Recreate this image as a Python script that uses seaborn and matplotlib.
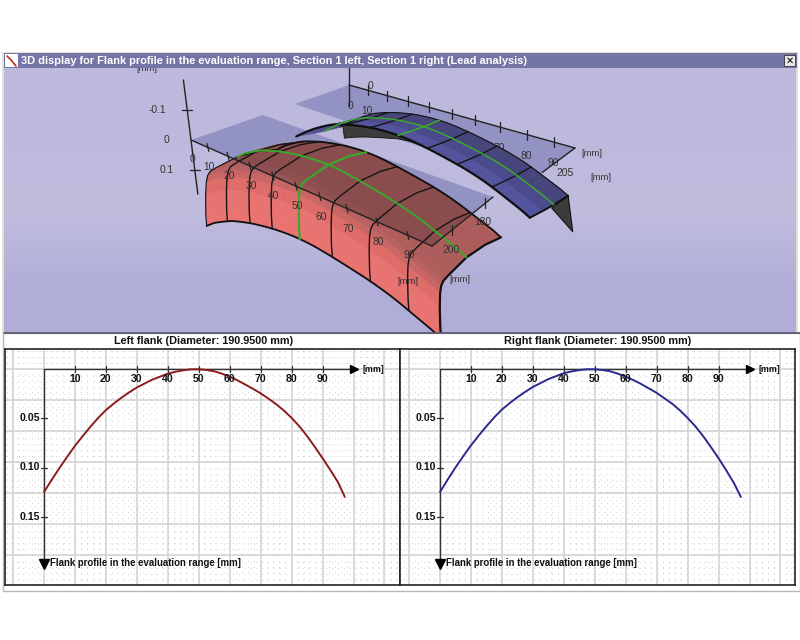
import numpy as np
import pandas as pd
import seaborn as sns
import matplotlib.pyplot as plt
from matplotlib.collections import PolyCollection
from matplotlib.patches import Polygon, Rectangle

# flank profile
lead_mm = [0, 2.5, 5, 7.5, 10, 12.5, 15, 17.5, 20, 22.5, 25, 27.5, 30, 32.5, 35, 37.5, 40, 42.5, 45, 47.5, 50,
           52.5, 55, 57.5, 60, 62.5, 65, 67.5, 70, 72.5, 75, 77.5, 80, 82.5, 85, 87.5, 90, 92.5, 95, 97.2]
left_flank = [0.125, 0.1125, 0.1005, 0.089, 0.078, 0.068, 0.0585, 0.0495, 0.0415, 0.035, 0.029, 0.0235, 0.0185,
              0.0145, 0.0105, 0.0075, 0.0045, 0.0025, 0.001, 0.0, 0.0, 0.0007, 0.002, 0.0045, 0.0075, 0.0112,
              0.0155, 0.0198, 0.0245, 0.0298, 0.0355, 0.042, 0.0495, 0.058, 0.068, 0.079, 0.0905, 0.1025, 0.115, 0.130]
right_flank = [0.125, 0.1122, 0.100, 0.0885, 0.0775, 0.0675, 0.058, 0.049, 0.041, 0.0345, 0.0285, 0.023, 0.018,
               0.014, 0.010, 0.007, 0.004, 0.0022, 0.0008, 0.0, 0.0, 0.0007, 0.002, 0.0045, 0.0075, 0.011,
               0.015, 0.0195, 0.024, 0.0295, 0.035, 0.0418, 0.0495, 0.058, 0.068, 0.079, 0.0905, 0.103, 0.116, 0.130]
lead_ticks = [10, 20, 30, 40, 50, 60, 70, 80, 90]
dev_ticks = [0.05, 0.10, 0.15]

# cross section of the 3D surfaces: depth position and height
red_depth = [-0.08, -0.07, -0.04, -0.01, 0.02, 0.06, 0.15, 0.45, 0.75, 1.0]
red_height = [0.16, 0.12, 0.06, 0.02, 0.0, -0.01, -0.015, -0.025, -0.018, -0.002]
blue_depth = [0.25, 0.55, 0.8, 1.05]
blue_height = [0.0, -0.005, -0.012, -0.02]

# black section lines on the surfaces, lead position in mm
red_sections = [17, 28, 38, 63, 76, 88]
blue_sections = [26, 38, 62, 73, 85]
section_mid = 50
red_start = 5

# dark wall below the front edge of the blue surface
wall_x = [25, 30, 35, 40, 45, 50, 55, 60]
wall_drop = [0.045, 0.04, 0.035, 0.03, 0.022, 0.012, 0.005, 0.0]

# how the lead axis shortens in the view (fraction of axis length)
view_mm = [0, 10, 20, 30, 40, 50, 60, 70, 80, 90, 97.2]
red_frac = [0, 0.07, 0.154, 0.245, 0.34, 0.436, 0.535, 0.647, 0.772, 0.90, 1.0]
blue_frac = [0, 0.084, 0.168, 0.261, 0.354, 0.456, 0.558, 0.668, 0.788, 0.907, 1.0]

BG_TOP = '#bdb9dd'
BG_BOT = '#b0aed8'
PLANE = '#7b7db5'

sns.set_theme(style='white')
plt.rcParams['font.family'] = ['Liberation Sans', 'DejaVu Sans']

fig = plt.figure(figsize=(8, 6.4), dpi=100, facecolor='white')
ax = fig.add_axes([0, 0, 1, 1])
ax.set_xlim(0, 800)
ax.set_ylim(640, 0)
ax.axis('off')


class View:
    # corners: origin, end of lead axis, origin at depth 1, lead end at depth 1
    def __init__(self, corners, frac, zvec=(38, 300), shift=(0, 0)):
        self.c = np.array(corners, float)
        self.frac = frac
        self.zvec = np.array(zvec, float)
        self.shift = np.array(shift, float)

    def pt(self, x, d, z=0.0):
        u = np.interp(x, view_mm, self.frac)
        a, b, c, e = self.c
        p = (1 - u) * (1 - d) * a + u * (1 - d) * b + (1 - u) * d * c + u * d * e
        return p + self.zvec * z + self.shift


def surface_cells(view, profile, depth, height, start=0):
    polys = []
    for i in range(len(lead_mm) - 1):
        if lead_mm[i] < start:
            continue
        for j in range(len(depth) - 1):
            polys.append([
                view.pt(lead_mm[i], depth[j], profile[i] + height[j]),
                view.pt(lead_mm[i + 1], depth[j], profile[i + 1] + height[j]),
                view.pt(lead_mm[i + 1], depth[j + 1], profile[i + 1] + height[j + 1]),
                view.pt(lead_mm[i], depth[j + 1], profile[i] + height[j + 1]),
            ])
    return polys


def section(view, profile, x, depth, height):
    z = np.interp(x, lead_mm, profile)
    return np.array([view.pt(x, d, z + h) for d, h in zip(depth, height)])


def along(view, profile, d, h, start=0):
    return np.array([view.pt(x, d, z + h) for x, z in zip(lead_mm, profile) if x >= start])


# window frame, background gradient
ax.add_patch(Rectangle((2, 52), 796, 284, fc='#e4e0d4', ec='none', zorder=0))
ax.imshow(np.array([[0.0], [0.4], [1.0]]), extent=(4, 796, 333, 68), aspect='auto', zorder=0.5,
          interpolation='bilinear', cmap=sns.blend_palette([BG_TOP, '#c0bcde', BG_BOT], as_cmap=True))
ax.set_xlim(0, 800)
ax.set_ylim(640, 0)
ax.add_patch(Rectangle((4, 53), 793, 15, fc='#7474a6', ec='none', zorder=8))
ax.add_patch(Rectangle((5, 54), 13, 13, fc='white', ec='none', zorder=9))
ax.plot([7, 11, 16], [56, 60, 66], color='#c02828', lw=1.2, zorder=10)
ax.text(21, 60.5, '3D display for Flank profile in the evaluation range, Section 1 left, Section 1 right (Lead analysis)',
        color='white', fontsize=7.9, fontweight='bold', va='center', zorder=10)
ax.add_patch(Rectangle((784, 55), 11, 11, fc='#e8e8e8', ec='#333333', lw=0.6, zorder=9))
ax.text(789.5, 60.5, '\u2715', fontsize=7, fontweight='bold', family='DejaVu Sans', ha='center', va='center',
        color='black', zorder=10)

# red flank, left
red_corners = [(191, 140), (432, 246), (263, 115), (493, 197)]
red_view = View(red_corners, red_frac, shift=(3, 2))
red_axis = View(red_corners, red_frac)
plane_red = [red_corners[0], red_corners[1], red_corners[3], red_corners[2]]
ax.add_patch(Polygon(plane_red, fc=PLANE, ec='none', alpha=0.65, zorder=1))

cells = surface_cells(red_view, left_flank, red_depth, red_height, red_start)
n_band = len(red_depth) - 1
band_light = ['#ea7370', '#e87370', '#e06c6a', '#c96563', '#b86160', '#b05d5c', '#ad5c5c', '#ad5c5c', '#ad5c5c']
band_dark = ['#ea7370', '#e87370', '#e06c6a', '#c96563', '#9a5454', '#8e4f50', '#8a4c4d', '#8a4c4d', '#8a4c4d']
light_colors = [band_light[k % n_band] for k in range(len(cells))]
dark_colors = [band_dark[k % n_band] for k in range(len(cells))]
ax.add_collection(PolyCollection(cells, facecolors=light_colors, edgecolors=light_colors, lw=0.3, zorder=3))
dark = PolyCollection(cells, facecolors=dark_colors, edgecolors=dark_colors, lw=0.3, zorder=3.1)
ax.add_collection(dark)
clip = Polygon(plane_red, transform=ax.transData)
dark.set_clip_path(clip)

for x in red_sections:
    line = section(red_view, left_flank, x, red_depth, red_height)
    ax.plot(line[:, 0], line[:, 1], color='#151515', lw=1.0, zorder=4)
line = section(red_view, left_flank, section_mid, red_depth, red_height)
ax.plot(line[:, 0], line[:, 1], color='#3aa82c', lw=1.6, zorder=4.2)
line = along(red_view, left_flank, 0.45, -0.025, red_start)
ax.plot(line[:, 0], line[:, 1], color='#3aa82c', lw=1.4, zorder=4.2)
for d, h in [(red_depth[0], red_height[0]), (red_depth[-1], red_height[-1])]:
    line = along(red_view, left_flank, d, h, red_start)
    ax.plot(line[:, 0], line[:, 1], color='#101010', lw=1.3, zorder=4.1)
for x, lw in [(red_start, 0.8), (97.2, 1.6)]:
    line = section(red_view, left_flank, x, red_depth, red_height)
    ax.plot(line[:, 0], line[:, 1], color='#101010', lw=lw, zorder=4.1)

# red axes
a0, a1 = red_axis.pt(0, 0), red_axis.pt(97.2, 0)
ax.plot([a0[0], a1[0]], [a0[1], a1[1]], color='#222222', lw=1.0, zorder=5)
b1 = red_axis.pt(97.2, 1)
ax.plot([a1[0], b1[0]], [a1[1], b1[1]], color='#222222', lw=1.0, zorder=5)
for x in lead_ticks:
    p = red_axis.pt(x, 0)
    ax.plot([p[0] - 1, p[0] + 1], [p[1] - 4, p[1] + 4], color='#222222', lw=0.9, zorder=5)
    ax.text(p[0] + 1, p[1] + 20, str(x), fontsize=7.4, color='#333333', ha='center', va='center', zorder=6)
ax.text(193, 159, '0', fontsize=7.4, color='#333333', ha='center', va='center', zorder=6)
for d, lab, off in [(0.33, '200', (-1, 20)), (0.87, '180', (-2, 19))]:
    q = a1 + (b1 - a1) * d
    ax.plot([q[0], q[0]], [q[1] - 5, q[1] + 5], color='#222222', lw=0.9, zorder=5)
    ax.text(q[0] + off[0], q[1] + off[1], lab, fontsize=7.4, color='#333333', ha='center', va='center', zorder=6)
ax.text(408, 282, '[mm]', fontsize=6.8, color='#333333', ha='center', va='center', zorder=6)
ax.text(460, 279, '[mm]', fontsize=6.8, color='#333333', ha='center', va='center', zorder=6)

# depth axis of the left view, -0.2 to 0.18
z0, z1 = red_axis.pt(0, 0, -0.2), red_axis.pt(0, 0, 0.18)
ax.plot([z0[0], z1[0]], [z0[1], z1[1]], color='#222222', lw=1.0, zorder=2)
for z, lab, off in [(-0.1, '-0.1', -30), (0.1, '0.1', -28)]:
    q = red_axis.pt(0, 0, z)
    ax.plot([q[0] - 5, q[0] + 5], [q[1], q[1]], color='#222222', lw=0.9, zorder=2)
    ax.text(q[0] + off, q[1], lab, fontsize=7.4, color='#333333', ha='center', va='center', zorder=6)
ax.text(167, 140, '0', fontsize=7.4, color='#333333', ha='center', va='center', zorder=6)
ax.text(147, 68.5, '[mm]', fontsize=6.8, color='#333333', ha='center', va='center', zorder=6)

# blue flank, right
blue_corners = [(349, 85), (575, 148), (295, 104), (528, 183)]
blue_view = View(blue_corners, blue_frac)
ax.add_patch(Polygon([blue_corners[0], blue_corners[1], blue_corners[3], blue_corners[2]],
                     fc=PLANE, ec='none', alpha=0.65, zorder=1))
ax.plot([349, 349], [68, 106], color='#222222', lw=1.0, zorder=1.5)
ax.text(350, 106, '0', fontsize=7.4, color='#333333', ha='center', va='center', zorder=1.6)
ax.text(371, 86, '0', fontsize=7.4, color='#333333', ha='center', va='center', zorder=6)
ax.plot([349, 575], [85, 148], color='#222222', lw=1.0, zorder=5)
e0, e1 = blue_view.pt(97.2, 0), blue_view.pt(97.2, 0.7)
ax.plot([e0[0], e1[0]], [e0[1], e1[1]], color='#222222', lw=1.0, zorder=5)
ax.text(565, 173, '205', fontsize=7.4, color='#333333', ha='center', va='center', zorder=6)
ax.text(601, 177, '[mm]', fontsize=6.8, color='#333333', ha='center', va='center', zorder=6)
ax.text(592, 154, '[mm]', fontsize=6.8, color='#333333', ha='center', va='center', zorder=6)
for x in lead_ticks:
    p = blue_view.pt(x, 0)
    ax.plot([p[0], p[0]], [p[1] - 5, p[1] + 5], color='#222222', lw=0.9, zorder=5)
    ax.text(p[0] - 1, p[1] + 21, str(x), fontsize=7.4, color='#333333', ha='center', va='center', zorder=1.6)

# dark walls under the blue surface
wall_top = [blue_view.pt(x, 1.05, np.interp(x, lead_mm, right_flank) - 0.02) for x in wall_x]
wall_low = [blue_view.pt(x, 1.05, np.interp(x, lead_mm, right_flank) - 0.02 + w) for x, w in zip(wall_x, wall_drop)]
ax.add_patch(Polygon(wall_top + wall_low[::-1], fc='#3c3c3c', ec='#111111', lw=0.6, zorder=3))
end_wall = [blue_view.pt(97.2, 0.25, 0.13), blue_view.pt(97.2, 0.25, 0.25), blue_view.pt(97.2, 0.6, 0.13)]
ax.add_patch(Polygon(end_wall, fc='#3c3c3c', ec='#111111', lw=0.8, zorder=3))

cells = surface_cells(blue_view, right_flank, blue_depth, blue_height)
n_band = len(blue_depth) - 1
band_blue = ['#46467c', '#4a4a8c', '#54549e']
blue_colors = [band_blue[k % n_band] for k in range(len(cells))]
ax.add_collection(PolyCollection(cells, facecolors=blue_colors, edgecolors=blue_colors, lw=0.3, zorder=3.2))
for x in blue_sections:
    line = section(blue_view, right_flank, x, blue_depth, blue_height)
    ax.plot(line[:, 0], line[:, 1], color='#151515', lw=1.0, zorder=4)
line = section(blue_view, right_flank, section_mid, blue_depth, blue_height)
ax.plot(line[:, 0], line[:, 1], color='#3aa82c', lw=1.2, zorder=4.2)
line = along(blue_view, right_flank, 0.55, -0.005)
ax.plot(line[:, 0], line[:, 1], color='#3aa82c', lw=1.1, zorder=4.2)
line = along(blue_view, right_flank, blue_depth[-1], blue_height[-1])
ax.plot(line[:, 0], line[:, 1], color='#101010', lw=1.6, zorder=4.1)
line = along(blue_view, right_flank, blue_depth[0], blue_height[0])
ax.plot(line[:, 0], line[:, 1], color='#101010', lw=0.8, zorder=4.1)
line = section(blue_view, right_flank, 97.2, blue_depth, blue_height)
ax.plot(line[:, 0], line[:, 1], color='#101010', lw=1.4, zorder=4.1)

# lower window part covers the surface overflow
ax.add_patch(Rectangle((0, 333), 800, 307, fc='white', ec='none', zorder=7))
ax.add_patch(Rectangle((3, 333), 797, 258, fc='white', ec='#b8b8b0', lw=1.0, zorder=7))
ax.plot([4, 800], [333, 333], color='#555566', lw=1.2, zorder=7.5)
ax.text(203.5, 341, 'Left flank (Diameter: 190.9500 mm)', fontsize=7.8, fontweight='bold', color='#111111',
        ha='center', va='center', zorder=8)
ax.text(598, 341, 'Right flank (Diameter: 190.9500 mm)', fontsize=7.8, fontweight='bold', color='#111111',
        ha='center', va='center', zorder=8)


def flank_chart(left_px, right_px, x0_px, values, color):
    top_px, bottom_px = 349.3, 585
    y0_px, px_per_mm_y, px_per_mm_x = 369.3, 982.0, 3.095
    cax = fig.add_axes([left_px / 800, 1 - bottom_px / 640, (right_px - left_px) / 800, (bottom_px - top_px) / 640])
    cax.set_zorder(5)
    cax.set_xlim((left_px - x0_px) / px_per_mm_x, (right_px - x0_px) / px_per_mm_x)
    cax.set_ylim((bottom_px - y0_px) / px_per_mm_y, (top_px - y0_px) / px_per_mm_y)
    cax.set_facecolor('white')
    for spine in cax.spines.values():
        spine.set_color('#222222')
        spine.set_linewidth(1.2)
    # background grid, 31 px apart in both directions
    grid_x = np.arange(-10, 111, 10)
    grid_y = np.arange(0, 7) * 31 / px_per_mm_y
    for gx in np.arange(-12, 115, 2):
        cax.axvline(gx, color='#cfcfcf', lw=0.7, ls=(0, (1, 5)), zorder=0.5)
    for gy in np.arange(-3, 36) * 6.2 / px_per_mm_y:
        cax.axhline(gy, color='#cfcfcf', lw=0.7, ls=(0, (1, 5)), zorder=0.5)
    for gx in grid_x:
        cax.axvline(gx, color='#d4d4d4', lw=1.2, zorder=1)
    for gy in grid_y:
        cax.axhline(gy, color='#d4d4d4', lw=1.2, zorder=1)

    df = pd.DataFrame({'lead': lead_mm, 'dev': values})
    sns.lineplot(data=df, x='lead', y='dev', color=color, lw=1.4, ax=cax, zorder=4, errorbar=None)
    cax.set_xlabel('')
    cax.set_ylabel('')
    cax.set_xticks([])
    cax.set_yticks([])

    cax.plot([0, 100], [0, 0], color='#333333', lw=1.0, zorder=3)
    cax.plot([0, 0], [0, 0.195], color='#333333', lw=1.0, zorder=3)
    cax.plot([100], [0], marker='>', ms=6, color='black', zorder=5, clip_on=False)
    cax.plot([0], [0.198], marker='v', ms=6.5, color='black', zorder=5)
    for t in lead_ticks:
        cax.plot([t, t], [-0.003, 0.003], color='#333333', lw=0.9, zorder=3)
        cax.text(t, 0.0095, str(t), fontsize=7.6, fontweight='bold', color='#111111', ha='center', va='center', zorder=6)
    for t in dev_ticks:
        cax.plot([-1.0, 1.0], [t, t], color='#333333', lw=0.9, zorder=3)
        cax.text(-1.4, t, f'{t:.2f}', fontsize=7.6, fontweight='bold', color='#111111', ha='right', va='center', zorder=6)
    cax.text(103, 0.0005, '[mm]', fontsize=6.4, fontweight='bold', color='#111111', ha='left', va='center', zorder=6)
    cax.text(2, 0.197, 'Flank profile in the evaluation range [mm]', fontsize=6.9, fontweight='bold',
             color='#111111', ha='left', va='center', zorder=6)


flank_chart(5, 400, 44, left_flank, '#8c1c1c')
flank_chart(400, 795, 440, right_flank, '#2a2a8c')

fig.savefig('out.png', dpi=100, facecolor='white')
